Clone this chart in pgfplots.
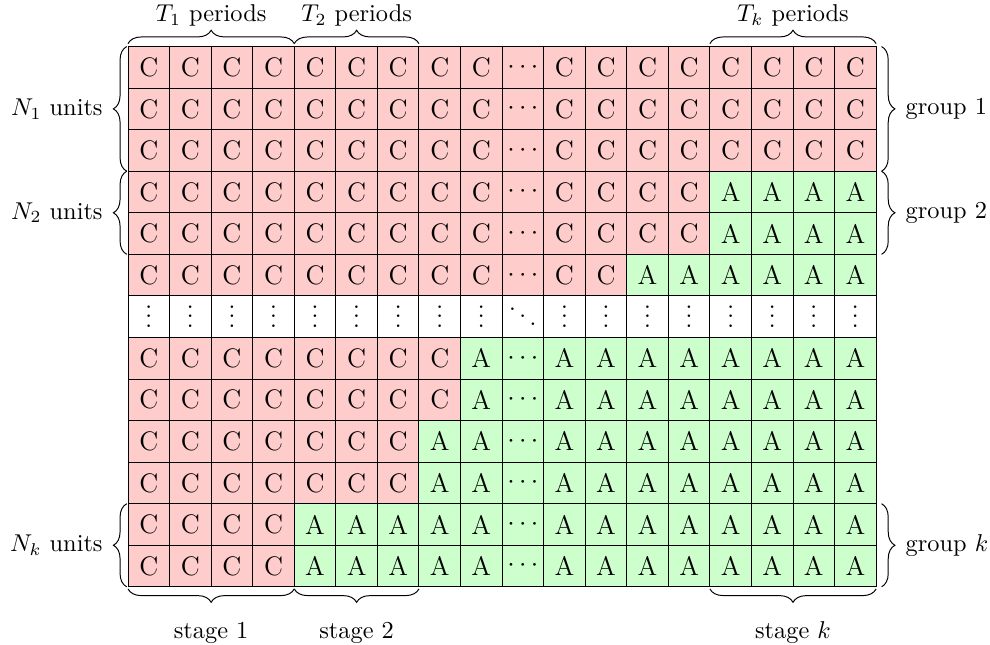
\documentclass[border=0pt]{standalone}
\usepackage{pgfplots}
\pgfplotsset{compat=1.18}
\usetikzlibrary{decorations.pathreplacing}
\definecolor{pinkc}{rgb}{1,0.8,0.8}
\definecolor{greenc}{rgb}{0.8,1,0.8}
\newcommand{\LC}{C}
\newcommand{\LA}{A}
\newcommand{\LH}{$\cdots$}
\newcommand{\LV}{$\vdots$}
\newcommand{\LD}{$\ddots$}
\begin{document}
\begin{tikzpicture}
\begin{axis}[
  x=0.6cm, y=0.6cm, scale only axis,
  xmin=0, xmax=18, ymin=0, ymax=13,
  axis on top, clip=false,
  xtick={0,...,18}, ytick={0,...,13},
  xticklabels={}, yticklabels={},
  major tick length=0pt,
  grid=major,
  major grid style={black, line width=0.4pt},
  axis line style={black, line width=0.4pt},
]
% colour areas
\addplot[fill=pinkc, draw=none, mark=none, forget plot] coordinates {(0,7) (12,7) (12,8) (14,8) (14,10) (18,10) (18,13) (0,13)} -- cycle;
\addplot[fill=greenc, draw=none, mark=none, forget plot] coordinates {(12,7) (18,7) (18,10) (14,10) (14,8) (12,8)} -- cycle;
\addplot[fill=pinkc, draw=none, mark=none, forget plot] coordinates {(0,0) (4,0) (4,2) (7,2) (7,4) (8,4) (8,6) (0,6)} -- cycle;
\addplot[fill=greenc, draw=none, mark=none, forget plot] coordinates {(4,0) (18,0) (18,6) (8,6) (8,4) (7,4) (7,2) (4,2)} -- cycle;
% cell labels
\addplot[only marks, mark=none, forget plot, point meta=explicit symbolic,
  nodes near coords={\csname L\pgfplotspointmeta\endcsname},
  nodes near coords align=center,
  every node near coord/.append style={inner sep=0pt, text=black, font=\fontsize{11}{13}\selectfont}] coordinates {
(0.5,12.5)[C] (1.5,12.5)[C] (2.5,12.5)[C] (3.5,12.5)[C] (4.5,12.5)[C] (5.5,12.5)[C] (6.5,12.5)[C] (7.5,12.5)[C] (8.5,12.5)[C] (9.5,12.5)[H] (10.5,12.5)[C] (11.5,12.5)[C] (12.5,12.5)[C] (13.5,12.5)[C] (14.5,12.5)[C] (15.5,12.5)[C] (16.5,12.5)[C] (17.5,12.5)[C]
(0.5,11.5)[C] (1.5,11.5)[C] (2.5,11.5)[C] (3.5,11.5)[C] (4.5,11.5)[C] (5.5,11.5)[C] (6.5,11.5)[C] (7.5,11.5)[C] (8.5,11.5)[C] (9.5,11.5)[H] (10.5,11.5)[C] (11.5,11.5)[C] (12.5,11.5)[C] (13.5,11.5)[C] (14.5,11.5)[C] (15.5,11.5)[C] (16.5,11.5)[C] (17.5,11.5)[C]
(0.5,10.5)[C] (1.5,10.5)[C] (2.5,10.5)[C] (3.5,10.5)[C] (4.5,10.5)[C] (5.5,10.5)[C] (6.5,10.5)[C] (7.5,10.5)[C] (8.5,10.5)[C] (9.5,10.5)[H] (10.5,10.5)[C] (11.5,10.5)[C] (12.5,10.5)[C] (13.5,10.5)[C] (14.5,10.5)[C] (15.5,10.5)[C] (16.5,10.5)[C] (17.5,10.5)[C]
(0.5,9.5)[C] (1.5,9.5)[C] (2.5,9.5)[C] (3.5,9.5)[C] (4.5,9.5)[C] (5.5,9.5)[C] (6.5,9.5)[C] (7.5,9.5)[C] (8.5,9.5)[C] (9.5,9.5)[H] (10.5,9.5)[C] (11.5,9.5)[C] (12.5,9.5)[C] (13.5,9.5)[C] (14.5,9.5)[A] (15.5,9.5)[A] (16.5,9.5)[A] (17.5,9.5)[A]
(0.5,8.5)[C] (1.5,8.5)[C] (2.5,8.5)[C] (3.5,8.5)[C] (4.5,8.5)[C] (5.5,8.5)[C] (6.5,8.5)[C] (7.5,8.5)[C] (8.5,8.5)[C] (9.5,8.5)[H] (10.5,8.5)[C] (11.5,8.5)[C] (12.5,8.5)[C] (13.5,8.5)[C] (14.5,8.5)[A] (15.5,8.5)[A] (16.5,8.5)[A] (17.5,8.5)[A]
(0.5,7.5)[C] (1.5,7.5)[C] (2.5,7.5)[C] (3.5,7.5)[C] (4.5,7.5)[C] (5.5,7.5)[C] (6.5,7.5)[C] (7.5,7.5)[C] (8.5,7.5)[C] (9.5,7.5)[H] (10.5,7.5)[C] (11.5,7.5)[C] (12.5,7.5)[A] (13.5,7.5)[A] (14.5,7.5)[A] (15.5,7.5)[A] (16.5,7.5)[A] (17.5,7.5)[A]
(0.5,5.5)[C] (1.5,5.5)[C] (2.5,5.5)[C] (3.5,5.5)[C] (4.5,5.5)[C] (5.5,5.5)[C] (6.5,5.5)[C] (7.5,5.5)[C] (8.5,5.5)[A] (9.5,5.5)[H] (10.5,5.5)[A] (11.5,5.5)[A] (12.5,5.5)[A] (13.5,5.5)[A] (14.5,5.5)[A] (15.5,5.5)[A] (16.5,5.5)[A] (17.5,5.5)[A]
(0.5,4.5)[C] (1.5,4.5)[C] (2.5,4.5)[C] (3.5,4.5)[C] (4.5,4.5)[C] (5.5,4.5)[C] (6.5,4.5)[C] (7.5,4.5)[C] (8.5,4.5)[A] (9.5,4.5)[H] (10.5,4.5)[A] (11.5,4.5)[A] (12.5,4.5)[A] (13.5,4.5)[A] (14.5,4.5)[A] (15.5,4.5)[A] (16.5,4.5)[A] (17.5,4.5)[A]
(0.5,3.5)[C] (1.5,3.5)[C] (2.5,3.5)[C] (3.5,3.5)[C] (4.5,3.5)[C] (5.5,3.5)[C] (6.5,3.5)[C] (7.5,3.5)[A] (8.5,3.5)[A] (9.5,3.5)[H] (10.5,3.5)[A] (11.5,3.5)[A] (12.5,3.5)[A] (13.5,3.5)[A] (14.5,3.5)[A] (15.5,3.5)[A] (16.5,3.5)[A] (17.5,3.5)[A]
(0.5,2.5)[C] (1.5,2.5)[C] (2.5,2.5)[C] (3.5,2.5)[C] (4.5,2.5)[C] (5.5,2.5)[C] (6.5,2.5)[C] (7.5,2.5)[A] (8.5,2.5)[A] (9.5,2.5)[H] (10.5,2.5)[A] (11.5,2.5)[A] (12.5,2.5)[A] (13.5,2.5)[A] (14.5,2.5)[A] (15.5,2.5)[A] (16.5,2.5)[A] (17.5,2.5)[A]
(0.5,1.5)[C] (1.5,1.5)[C] (2.5,1.5)[C] (3.5,1.5)[C] (4.5,1.5)[A] (5.5,1.5)[A] (6.5,1.5)[A] (7.5,1.5)[A] (8.5,1.5)[A] (9.5,1.5)[H] (10.5,1.5)[A] (11.5,1.5)[A] (12.5,1.5)[A] (13.5,1.5)[A] (14.5,1.5)[A] (15.5,1.5)[A] (16.5,1.5)[A] (17.5,1.5)[A]
(0.5,0.5)[C] (1.5,0.5)[C] (2.5,0.5)[C] (3.5,0.5)[C] (4.5,0.5)[A] (5.5,0.5)[A] (6.5,0.5)[A] (7.5,0.5)[A] (8.5,0.5)[A] (9.5,0.5)[H] (10.5,0.5)[A] (11.5,0.5)[A] (12.5,0.5)[A] (13.5,0.5)[A] (14.5,0.5)[A] (15.5,0.5)[A] (16.5,0.5)[A] (17.5,0.5)[A]
};
% dots row
\addplot[only marks, mark=none, forget plot, point meta=explicit symbolic,
  nodes near coords={\csname L\pgfplotspointmeta\endcsname},
  nodes near coords align=center,
  every node near coord/.append style={inner sep=0pt, text=black, yshift=3pt, font=\fontsize{11}{13}\selectfont}] coordinates {
(0.5,6.5)[V] (1.5,6.5)[V] (2.5,6.5)[V] (3.5,6.5)[V] (4.5,6.5)[V] (5.5,6.5)[V] (6.5,6.5)[V] (7.5,6.5)[V] (8.5,6.5)[V] (9.5,6.5)[D] (10.5,6.5)[V] (11.5,6.5)[V] (12.5,6.5)[V] (13.5,6.5)[V] (14.5,6.5)[V] (15.5,6.5)[V] (16.5,6.5)[V] (17.5,6.5)[V]
};
% braces
\begin{scope}[decoration={brace, amplitude=5.5pt}, line width=0.4pt]
\draw[decorate] (axis cs:0,13.07) -- (axis cs:4,13.07);
\draw[decorate] (axis cs:4,13.07) -- (axis cs:7,13.07);
\draw[decorate] (axis cs:14,13.07) -- (axis cs:18,13.07);
\draw[decorate] (axis cs:4,-0.05) -- (axis cs:0,-0.05);
\draw[decorate] (axis cs:7,-0.05) -- (axis cs:4,-0.05);
\draw[decorate] (axis cs:18,-0.05) -- (axis cs:14,-0.05);
\draw[decorate] (axis cs:-0.03,10) -- (axis cs:-0.03,13);
\draw[decorate] (axis cs:-0.03,8) -- (axis cs:-0.03,10);
\draw[decorate] (axis cs:-0.03,0) -- (axis cs:-0.03,2);
\draw[decorate] (axis cs:18.13,13) -- (axis cs:18.13,10);
\draw[decorate] (axis cs:18.13,10) -- (axis cs:18.13,8);
\draw[decorate] (axis cs:18.13,2) -- (axis cs:18.13,0);
\end{scope}
% labels
\node[anchor=base, inner sep=0pt] at (axis cs:2,13.60) {$T_1$ periods};
\node[anchor=base, inner sep=0pt] at (axis cs:5.5,13.60) {$T_2$ periods};
\node[anchor=base, inner sep=0pt] at (axis cs:16,13.60) {$T_k$ periods};
\node[anchor=base, inner sep=0pt] at (axis cs:2,-1.24) {stage 1};
\node[anchor=base, inner sep=0pt] at (axis cs:5.5,-1.24) {stage 2};
\node[anchor=base, inner sep=0pt] at (axis cs:16,-1.24) {stage $k$};
\node[anchor=east, inner sep=0pt] at (axis cs:-0.6,11.5) {$N_1$ units};
\node[anchor=east, inner sep=0pt] at (axis cs:-0.6,9) {$N_2$ units};
\node[anchor=east, inner sep=0pt] at (axis cs:-0.6,1) {$N_k$ units};
\node[anchor=west, inner sep=0pt] at (axis cs:18.7,11.5) {group 1};
\node[anchor=west, inner sep=0pt] at (axis cs:18.7,9) {group 2};
\node[anchor=west, inner sep=0pt] at (axis cs:18.7,1) {group $k$};
% picture extent
\path (axis cs:-3.08,-1.38) rectangle (axis cs:20.74,14.12);
\end{axis}
\end{tikzpicture}
\end{document}
